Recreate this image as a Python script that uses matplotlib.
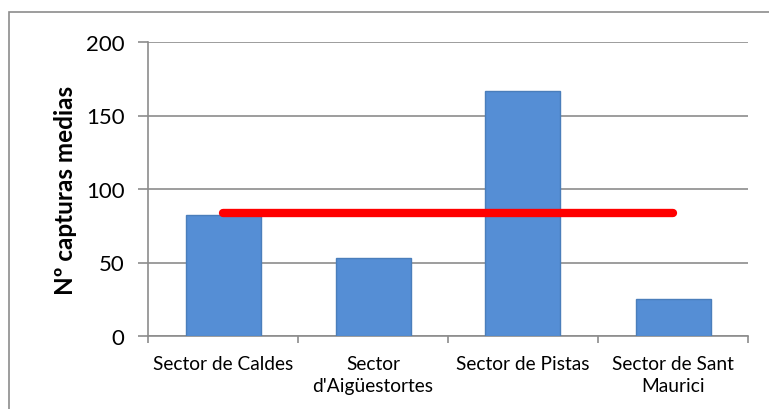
import matplotlib
matplotlib.use("Agg")
import matplotlib.pyplot as plt
from matplotlib.patches import Rectangle

categories = ["Sector de Caldes", "Sector\nd'Aigüestortes", "Sector de Pistas", "Sector de Sant\nMaurici"]
values = [82, 53, 167, 25]
mean_value = 83.5
y_ticks = [0, 50, 100, 150, 200]
y_label = "Nº capturas medias"

plt.rcParams['font.family'] = ['Lato', 'DejaVu Sans']

fig = plt.figure(figsize=(7.69, 4.10), dpi=100)
ax = fig.add_axes([148/769, 1-337/410, 600/769, 294/410])

x = list(range(len(categories)))
ax.bar(x, values, width=0.5, color='#558ED5', edgecolor='#4A7EBB', linewidth=1, zorder=3)
ax.plot([x[0], x[-1]], [mean_value, mean_value], color='#FF0000', linewidth=6,
        solid_capstyle='round', zorder=4)

ax.set_xlim(-0.5, len(categories) - 0.5)
ax.set_ylim(0, 200)
ax.set_yticks(y_ticks)
ax.set_yticklabels([str(t) for t in y_ticks], fontsize=16)
ax.yaxis.grid(True, color='#8C8C8C', linewidth=1.2, zorder=0)
ax.set_axisbelow(True)

ax.set_xticks(x)
ax.set_xticklabels(categories, fontsize=13.8, linespacing=1.3)
ax.tick_params(axis='x', length=0, pad=14)
ax.set_xticks([i - 0.5 for i in range(len(categories) + 1)], minor=True)
ax.tick_params(axis='x', which='minor', length=5, color='#8C8C8C', width=1.2)
ax.tick_params(axis='y', length=7, color='#8C8C8C', width=1.2, pad=10)

for s in ['top', 'right']:
    ax.spines[s].set_visible(False)
for s in ['left', 'bottom']:
    ax.spines[s].set_color('#8C8C8C')
    ax.spines[s].set_linewidth(1.2)

ax.set_ylabel(y_label, fontsize=17.5, fontweight='bold', labelpad=6)

fig.patches.append(Rectangle((9/769, -0.05), 1.0, 1 - 13/410 + 0.05, transform=fig.transFigure,
                             fill=False, edgecolor='#8C8C8C', linewidth=1.2, clip_on=False))

fig.savefig('out.png', dpi=100)
